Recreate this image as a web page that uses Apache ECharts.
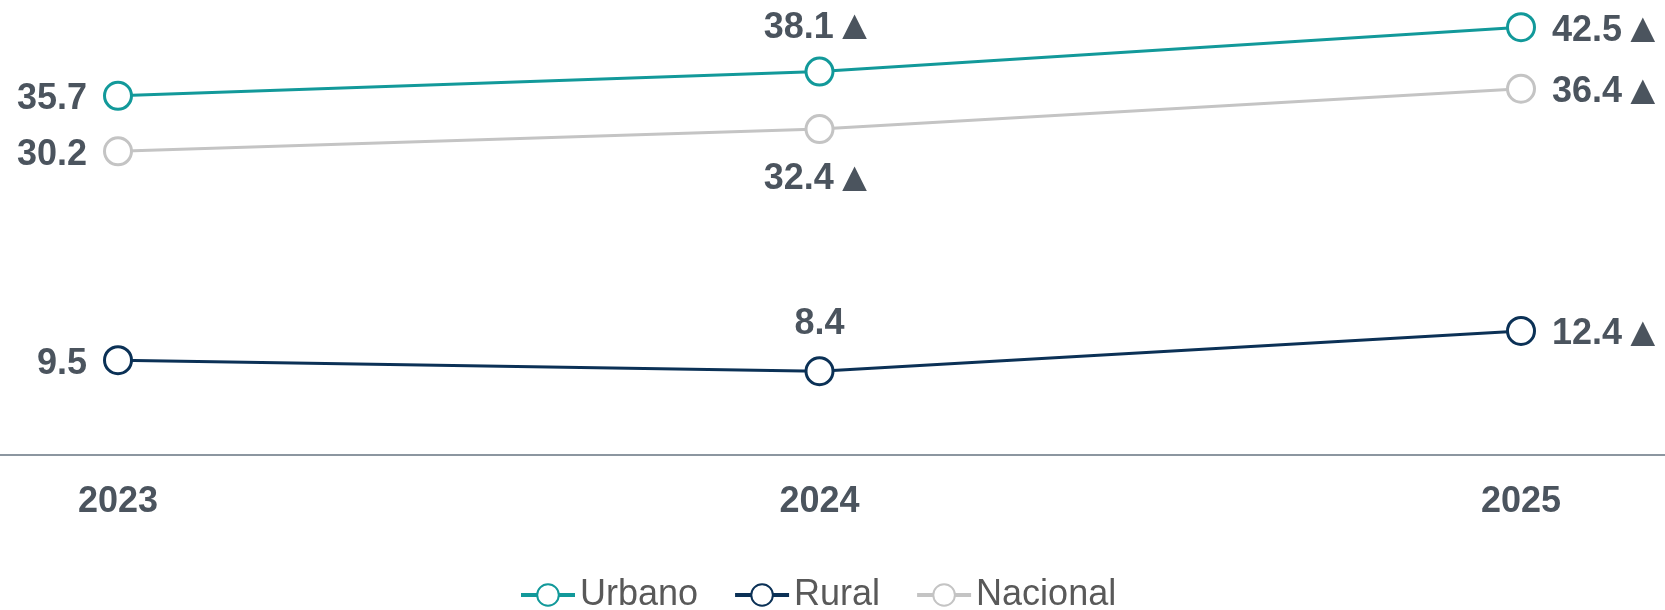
<!DOCTYPE html>
<html>
<head>
<meta charset="utf-8">
<script src="https://cdn.jsdelivr.net/npm/echarts@6/dist/echarts.min.js"></script>
<style>
  html, body { margin: 0; padding: 0; background: #fff; }
  #chart { width: 1665px; height: 610px; }
</style>
</head>
<body>
<div id="chart"></div>
<script>
// chart data
const years = ['2023', '2024', '2025']
const urbano = [35.7, 38.1, 42.5]
const rural = [9.5, 8.4, 12.4]
const nacional = [30.2, 32.4, 36.4]

const labelColor = '#4b545e'
const colors = {
  Urbano: '#12999a',
  Rural: '#0b3156',
  Nacional: '#c4c4c4'
}

// label under the middle point for Nacional, above for the others
function makeSeries(name, values, middlePos) {
  const last = values.length - 1
  const isUp = i => i > 0 && values[i] > values[i - 1]
  return {
    name: name,
    type: 'line',
    data: values.map((v, i) => {
      const side = i === 0 || i === last
      let dist = 16
      if (!side) dist = middlePos === 'bottom' ? 15 : isUp(i) ? 9 : 12
      return {
        value: v,
        label: {
          position: i === 0 ? 'left' : i === last ? 'right' : middlePos,
          distance: dist,
          padding: side ? [7, 0, 0, 0] : 0
        }
      }
    }),
    symbol: 'circle',
    symbolSize: 27,
    lineStyle: { color: colors[name], width: 3 },
    itemStyle: { color: '#fff', borderColor: colors[name], borderWidth: 3 },
    label: {
      show: true,
      fontFamily: 'Liberation Sans, Arial, sans-serif',
      fontWeight: 'bold',
      fontSize: 36,
      lineHeight: 40,
      color: labelColor,
      formatter: p => p.value.toFixed(1) + (isUp(p.dataIndex) ? '{tri|▲}' : ''),
      rich: {
        tri: {
          fontFamily: 'Liberation Sans, Arial, sans-serif',
          fontSize: 42,
          lineHeight: 40,
          color: labelColor
        }
      }
    },
    emphasis: { disabled: true },
    animation: false
  }
}

const chart = echarts.init(document.getElementById('chart'))
chart.setOption({
  backgroundColor: '#fff',
  legend: {
    left: 514,
    top: 572,
    itemWidth: 54,
    itemHeight: 27,
    itemGap: 35,
    lineStyle: { width: 4 },
    textStyle: {
      fontFamily: 'Liberation Sans, Arial, sans-serif',
      fontSize: 36,
      color: '#595959'
    },
    data: ['Urbano', 'Rural', 'Nacional']
  },
  grid: [
    { left: 118, right: 144, top: 2, bottom: 154 },
    { left: 0, right: 0, top: 2, bottom: 155 }
  ],
  xAxis: [
    {
      type: 'category',
      data: years,
      boundaryGap: false,
      axisLine: { show: false },
      axisTick: { show: false },
      axisLabel: {
        margin: 28,
        fontFamily: 'Liberation Sans, Arial, sans-serif',
        fontWeight: 'bold',
        fontSize: 36,
        color: labelColor
      }
    },
    {
      // full-width baseline
      type: 'value',
      gridIndex: 1,
      axisLine: { show: true, lineStyle: { color: '#8c96a0', width: 2 } },
      axisTick: { show: false },
      axisLabel: { show: false },
      splitLine: { show: false }
    }
  ],
  yAxis: [
    { type: 'value', min: 0, max: 45, show: false },
    { type: 'value', gridIndex: 1, show: false }
  ],
  series: [
    makeSeries('Urbano', urbano, 'top'),
    makeSeries('Rural', rural, 'top'),
    makeSeries('Nacional', nacional, 'bottom')
  ]
})
</script>
</body>
</html>
